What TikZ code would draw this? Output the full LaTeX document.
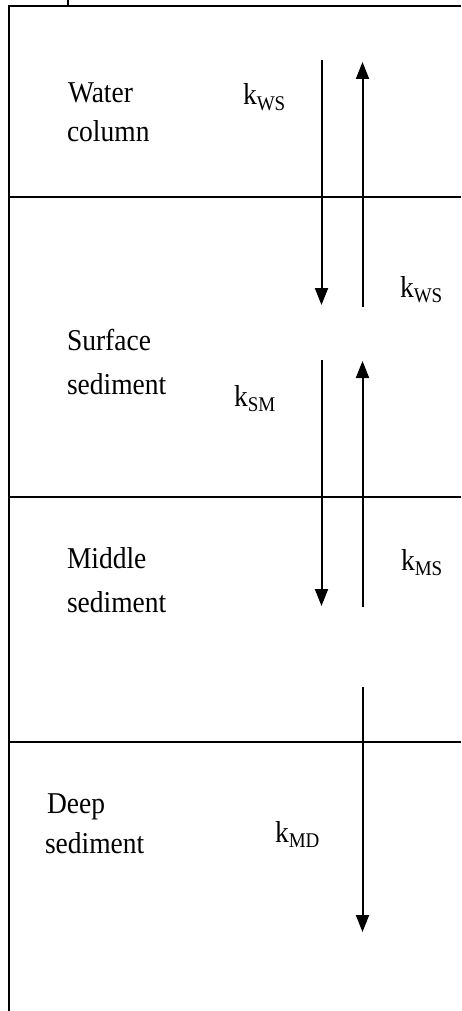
\documentclass[tikz,border=0pt]{standalone}
\usepackage{fontspec}
\setmainfont{Liberation Serif}
\usetikzlibrary{arrows.meta}
\newcommand\stt[1]{\scalebox{1}[1.1]{#1}}
\newcommand\kk[1]{\stt{k\raisebox{-5pt}{\fontsize{19}{20}\selectfont #1}}}
\tikzset{
  border/.style={line width=2pt},
  divider/.style={line width=1.5pt},
  flow/.style={line width=2pt,-{Triangle[width=13pt,length=17pt]}},
  lbl/.style={anchor=base west,inner sep=0pt,outer sep=0pt,font=\fontsize{27.5}{30}\selectfont},
}
\begin{document}
\begin{tikzpicture}[x=1pt,y=-1pt]
\useasboundingbox (0,0) rectangle (461,1011);
% frame
\coordinate (tick0) at (68,0);
\coordinate (tick1) at (68,6);
\coordinate (tl) at (8.5,6);
\coordinate (tr) at (461,6);
\coordinate (bl) at (8.5,1011);
\draw[border] (tick0) -- (tick1);
\draw[border] (tr) -- (tl) -- (bl);
% dividers
\coordinate (d1l) at (8.5,197); \coordinate (d1r) at (461,197);
\coordinate (d2l) at (8.5,497); \coordinate (d2r) at (461,497);
\coordinate (d3l) at (8.5,742); \coordinate (d3r) at (461,742);
\draw[divider] (d1l) -- (d1r);
\draw[divider] (d2l) -- (d2r);
\draw[divider] (d3l) -- (d3r);
% arrows
\coordinate (a1s) at (321.5,60);  \coordinate (a1e) at (321.5,305);
\coordinate (a2s) at (362.5,307); \coordinate (a2e) at (362.5,62);
\coordinate (a3s) at (321.5,360); \coordinate (a3e) at (321.5,606);
\coordinate (a4s) at (362.5,607); \coordinate (a4e) at (362.5,361);
\coordinate (a5s) at (362.5,687); \coordinate (a5e) at (362.5,932);
\draw[flow] (a1s) -- (a1e);
\draw[flow] (a2s) -- (a2e);
\draw[flow] (a3s) -- (a3e);
\draw[flow] (a4s) -- (a4e);
\draw[flow] (a5s) -- (a5e);
% compartment labels
\node[lbl] (water1) at (68,103) {\stt{Water}};
\node[lbl] (water2) at (67,142) {\stt{column}};
\node[lbl] (surf1) at (67,350) {\stt{Surface}};
\node[lbl] (surf2) at (67,394) {\stt{sediment}};
\node[lbl] (mid1) at (67,568) {\stt{Middle}};
\node[lbl] (mid2) at (67,612) {\stt{sediment}};
\node[lbl] (deep1) at (47,813) {\stt{Deep}};
\node[lbl] (deep2) at (45,853) {\stt{sediment}};
% rate labels
\node[lbl] (kws1) at (243,105) {\kk{WS}};
\node[lbl] (kws2) at (400,297) {\kk{WS}};
\node[lbl] (ksm) at (234,406) {\kk{SM}};
\node[lbl] (kms) at (401,570) {\kk{MS}};
\node[lbl] (kmd) at (275,842) {\kk{MD}};
\end{tikzpicture}
\end{document}
